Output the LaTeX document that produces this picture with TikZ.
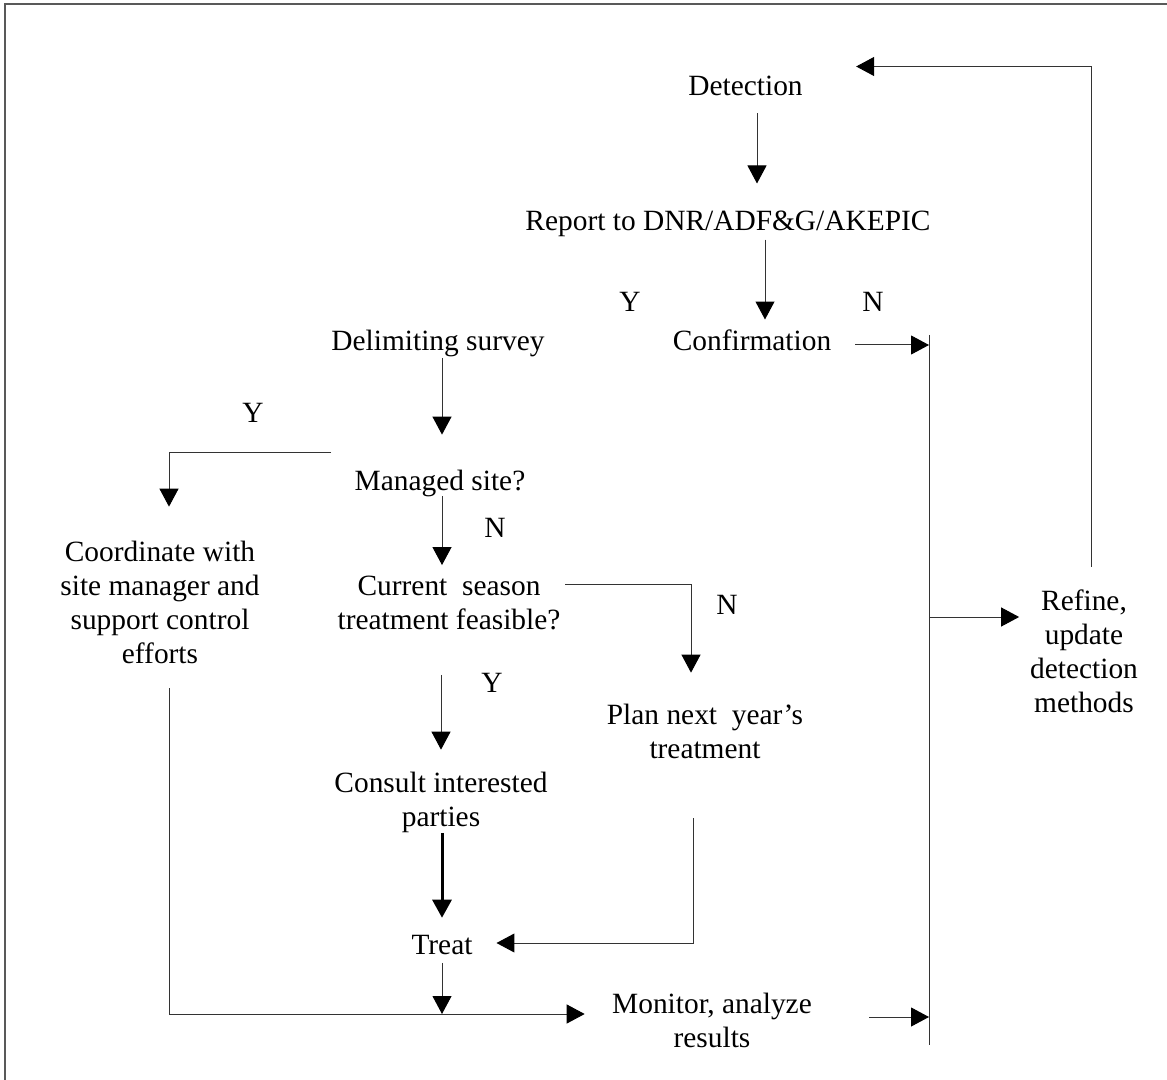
\documentclass[tikz,border=0pt]{standalone}
\usepackage{fontspec}
\setmainfont{Liberation Serif}
\usetikzlibrary{arrows.meta}

\begin{document}
\begin{tikzpicture}[x=0.5pt,y=-0.5pt,
  every node/.style={inner sep=0pt,outer sep=0pt,align=center,font=\fontsize{14.7}{17}\selectfont},
  flow/.style={draw=black!80,line width=0.5pt,-{Triangle[length=9pt,width=9.5pt,color=black]}},
  rule/.style={draw=black!80,line width=0.5pt}]
  \useasboundingbox (0,0) rectangle (1167,1080);
  \draw[black!65,line width=1pt] (5,1080) -- (5,4) -- (1167,4);

  \node (det)   at (745.5,85.5) {Detection};
  \node (rep)   at (728,224)    {Report to DNR/ADF\&G/AKEPIC};
  \node (conf)  at (752,340)    {Confirmation};
  \node (delim) at (438,343)    {Delimiting survey};
  \node (man)   at (440,483)    {Managed site?};
  \node (coord) at (160,602)    {Coordinate with\\site manager and\\support control\\efforts};
  \node (cur)   at (449,603)    {Current\ \ season\\treatment feasible?};
  \node (plan)  at (705,731)    {Plan next\ \ year's\\treatment};
  \node (cons)  at (441,802)    {Consult interested\\parties};
  \node (treat) at (442,945)    {Treat};
  \node (mon)   at (712,1020)   {Monitor, analyze\\results};
  \node (ref)   at (1084,651)   {Refine,\\update\\detection\\methods};

  \node (yc) at (630,302) {Y};
  \node (nc) at (873,302) {N};
  \node (ym) at (253,413) {Y};
  \node (nm) at (495,528) {N};
  \node (nf) at (727,605) {N};
  \node (yf) at (492,683) {Y};

  \coordinate (bt) at (929,335);
  \coordinate (bb) at (929,1045);
  \draw[rule] (bt) -- (bb);

  \coordinate (a1) at ([xshift=5.75pt]det.south);
  \draw[flow,shorten <=9pt,shorten >=13.8pt] (a1) -- (a1 |- rep.north);
  \coordinate (a2) at ([xshift=18.5pt]rep.south);
  \draw[flow,shorten <=1.3pt,shorten >=5pt] (a2) -- (a2 |- conf.north);
  \coordinate (a3) at ([yshift=-2.5pt]conf.east);
  \draw[flow,shorten <=12pt] (a3) -- (a3 -| bt);
  \coordinate (a4) at ([yshift=17pt]ref.west);
  \draw[flow,shorten >=5.5pt] (a4 -| bt) -- (a4);
  \coordinate (a5) at ([yshift=9.5pt]det.east);
  \draw[flow,shorten <=11.5pt,shorten >=26.75pt] ([xshift=3.5pt]ref.north) |- (a5);

  \coordinate (a6) at ([xshift=2pt]delim.south);
  \draw[flow,shorten <=0.8pt,shorten >=17.5pt] (a6) -- (a6 |- man.north);
  \draw[flow,shorten <=11.75pt,shorten >=17pt] ([yshift=15pt]man.west) -| ([xshift=4.5pt]coord.north);
  \coordinate (a8) at ([xshift=1pt]man.south);
  \draw[flow,shorten >=5.5pt] (a8) -- (a8 |- cur.north);
  \draw[flow,shorten <=2.5pt,shorten >=15.5pt] ([yshift=9.5pt]cur.east) -| ([xshift=-7pt]plan.north);
  \coordinate (a10) at ([xshift=-4pt]cur.south);
  \draw[flow,shorten <=22.5pt,shorten >=11pt] (a10) -- (a10 |- cons.north);
  \coordinate (a11) at ([xshift=0.5pt]cons.south);
  \draw[flow,draw=black,line width=1.5pt,shorten <=0.3pt,shorten >=8.75pt] (a11) -- (a11 |- treat.north);
  \draw[flow,shorten <=30pt,shorten >=12pt] ([xshift=-6pt]plan.south) |- ([yshift=1pt]treat.east);

  \coordinate (mj) at ([yshift=3pt]mon.west);
  \draw[flow,shorten <=12.5pt,shorten >=13.75pt] ([xshift=4.5pt]coord.south) |- (mj);
  \draw[flow,shorten <=4pt] (treat.south) -- (treat.south |- mj);
  \coordinate (a14) at ([yshift=1.5pt]mon.east);
  \draw[flow,shorten <=28.75pt] (a14) -- (a14 -| bb);
\end{tikzpicture}
\end{document}
